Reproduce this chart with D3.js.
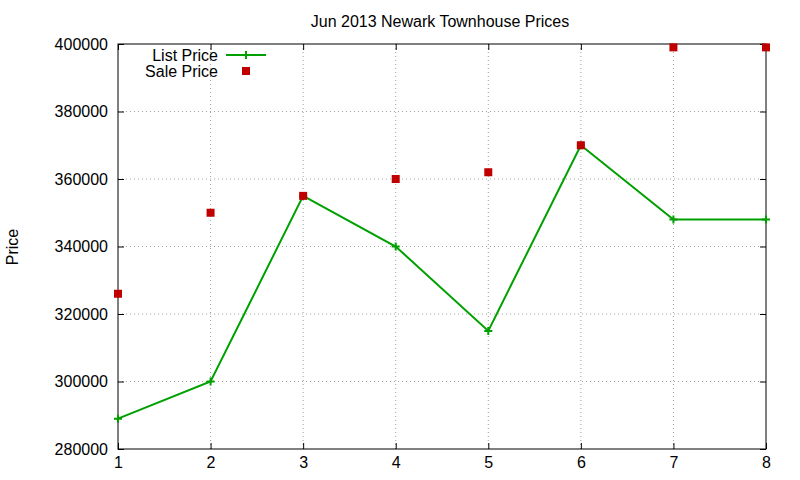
<!DOCTYPE html>
<html><head><meta charset="utf-8">
<script src="https://cdn.jsdelivr.net/npm/d3@7"></script>
<style>body{margin:0;background:#fff}text{font-family:"Liberation Sans",Arial,sans-serif}</style>
</head><body><svg id="c" width="800" height="480"></svg>
<script>
const days = [1, 2, 3, 4, 5, 6, 7, 8];
const listPrice = [289000, 300000, 355000, 340000, 315000, 370000, 348000, 348000];
const salePrice = [326000, 350000, 355000, 360000, 362000, 370000, 399000, 399000];
const yTicks = [280000, 300000, 320000, 340000, 360000, 380000, 400000];

const svg = d3.select('#c');
const x = d3.scaleLinear().domain([1, 8]).range([118, 766]);
const y = d3.scaleLinear().domain([280000, 400000]).range([449, 44]);

// grid
svg.append('g').selectAll('line').data(days.slice(1, -1)).join('line')
  .attr('x1', d => x(d)).attr('x2', d => x(d)).attr('y1', 44).attr('y2', 449)
  .attr('stroke', '#a0a0a0').attr('stroke-dasharray', '1,3');
svg.append('g').selectAll('line').data(yTicks.slice(1, -1)).join('line')
  .attr('x1', 118).attr('x2', 766).attr('y1', d => y(d)).attr('y2', d => y(d))
  .attr('stroke', '#a0a0a0').attr('stroke-dasharray', '1,3');

// axes
const xa = svg.append('g').attr('transform', 'translate(0,449)')
  .call(d3.axisBottom(x).tickValues(days).tickSize(-6).tickPadding(8).tickFormat(d3.format('d')));
const xt = svg.append('g').attr('transform', 'translate(0,44)')
  .call(d3.axisTop(x).tickValues(days).tickSize(-6).tickFormat(''));
const ya = svg.append('g').attr('transform', 'translate(118,0)')
  .call(d3.axisLeft(y).tickValues(yTicks).tickSize(-6).tickPadding(10).tickFormat(d3.format('d')));
const yr = svg.append('g').attr('transform', 'translate(766,0)')
  .call(d3.axisRight(y).tickValues(yTicks).tickSize(-6).tickFormat(''));
[xa, xt, ya, yr].forEach(g => {
  g.select('.domain').remove();
  g.selectAll('text').attr('font-size', 16).attr('fill', '#000');
  g.selectAll('line').attr('stroke', '#000');
});
svg.append('rect').attr('x', 118).attr('y', 44).attr('width', 648).attr('height', 405)
  .attr('fill', 'none').attr('stroke', '#000');

// list price line
const green = '#00a000';
svg.append('path').datum(listPrice)
  .attr('d', d3.line().x((d, i) => x(days[i])).y(d => y(d)))
  .attr('fill', 'none').attr('stroke', green).attr('stroke-width', 2);
const plus = (g, cx, cy) => g.append('path')
  .attr('d', `M${cx - 4},${cy}h8M${cx},${cy - 4}v8`).attr('stroke', green).attr('stroke-width', 2);
const pg = svg.append('g');
listPrice.forEach((v, i) => plus(pg, x(days[i]), y(v)));

// sale price points
svg.append('g').selectAll('rect').data(salePrice).join('rect')
  .attr('x', (d, i) => x(days[i]) - 4).attr('y', d => y(d) - 4)
  .attr('width', 8).attr('height', 8).attr('fill', '#c00000');

// legend
svg.append('text').attr('x', 218).attr('y', 61).attr('text-anchor', 'end').attr('font-size', 16).text('List Price');
svg.append('line').attr('x1', 226).attr('x2', 266).attr('y1', 55).attr('y2', 55).attr('stroke', green).attr('stroke-width', 2);
plus(svg, 246, 55);
svg.append('text').attr('x', 218).attr('y', 77).attr('text-anchor', 'end').attr('font-size', 16).text('Sale Price');
svg.append('rect').attr('x', 242).attr('y', 67).attr('width', 8).attr('height', 8).attr('fill', '#c00000');

// titles
svg.append('text').attr('x', 440).attr('y', 27).attr('text-anchor', 'middle').attr('font-size', 16).text('Jun 2013 Newark Townhouse Prices');
svg.append('text').attr('transform', 'translate(18,247) rotate(-90)').attr('text-anchor', 'middle').attr('font-size', 16).text('Price');
</script></body></html>
